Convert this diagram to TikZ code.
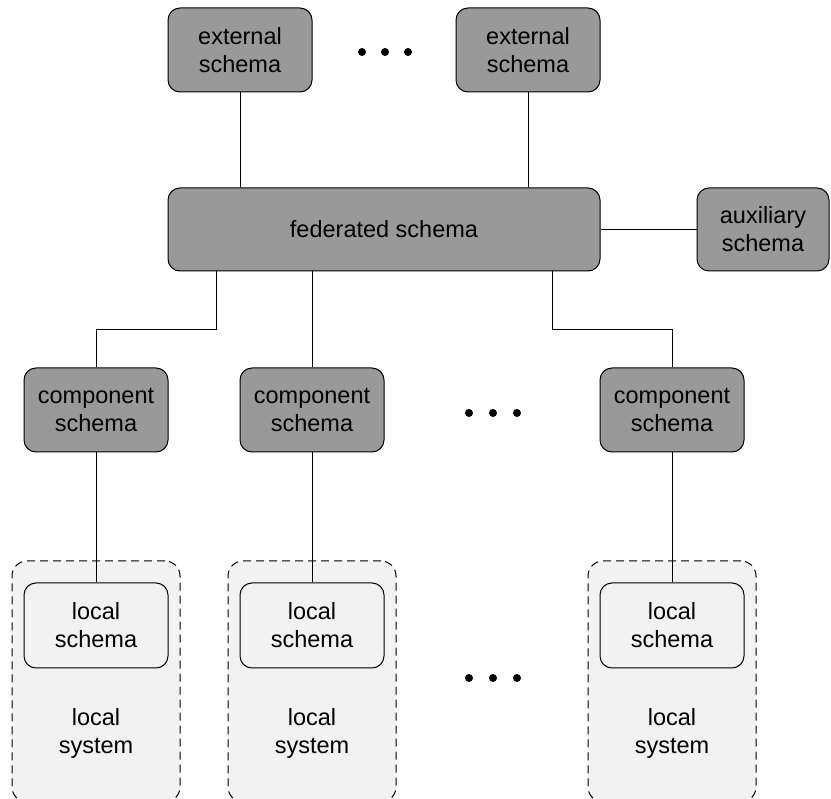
\documentclass[tikz,border=0pt]{standalone}
\usepackage{fontspec}
\setmainfont{Liberation Sans}
\definecolor{boxgray}{RGB}{153,153,153}
\definecolor{lightfill}{RGB}{242,242,242}
\begin{document}
\begin{tikzpicture}[x=1pt,y=-1pt,
  schem/.style={draw, fill=boxgray, rounded corners=12pt, minimum width=144pt, minimum height=84pt,
    align=center, inner sep=0pt, line width=1pt, font=\fontsize{23.5}{28}\selectfont},
  lschem/.style={schem, fill=lightfill},
  lsys/.style={draw, dash pattern=on 8pt off 5pt, fill=lightfill, rounded corners=15pt,
    minimum width=168pt, minimum height=241pt, inner sep=0pt, line width=1pt},
  lbl/.style={align=center, inner sep=0pt, font=\fontsize{23.5}{28}\selectfont},
  conn/.style={line width=1pt},
  dot/.style={fill=black}
]
\useasboundingbox (0,0) rectangle (831,799);
\clip (0,0) rectangle (831,799);

% external schemas
\node[schem] (ext1) at (240,50) {external\\schema};
\node[schem] (ext2) at (528,50) {external\\schema};
\fill[dot] (362,52) circle (4pt) (385,52) circle (4pt) (408,52) circle (4pt);

% federated and auxiliary
\node[schem, minimum width=432pt, minimum height=83pt] (fed) at (384,229.5) {federated schema};
\node[schem, minimum width=132pt, minimum height=83pt] (aux) at (763,229.5) {auxiliary\\schema};

% component schemas
\node[schem] (comp1) at (96,410) {component\\schema};
\node[schem] (comp2) at (312,410) {component\\schema};
\node[schem] (comp3) at (672,410) {component\\schema};
\fill[dot] (469,413) circle (4pt) (493,413) circle (4pt) (517,413) circle (4pt);

% local systems
\node[lsys] (sys1) at (96,681.5) {};
\node[lsys] (sys2) at (312,681.5) {};
\node[lsys] (sys3) at (672,681.5) {};
\node[lschem, minimum height=85pt] (loc1) at (96,625.5) {local\\schema};
\node[lschem, minimum height=85pt] (loc2) at (312,625.5) {local\\schema};
\node[lschem, minimum height=85pt] (loc3) at (672,625.5) {local\\schema};
\node[lbl] (sl1) at (96,733) {local\\system};
\node[lbl] (sl2) at (312,733) {local\\system};
\node[lbl] (sl3) at (672,733) {local\\system};
\fill[dot] (469,678) circle (4pt) (493,678) circle (4pt) (517,678) circle (4pt);

% connectors
\coordinate (j1) at (216,330);
\coordinate (j3) at (552,330);
\draw[conn] (ext1.south) -- (ext1.south |- fed.north);
\draw[conn] (ext2.south) -- (ext2.south |- fed.north);
\draw[conn] (fed.east) -- (aux.west);
\draw[conn] (fed.south -| j1) -- (j1) -| (comp1.north);
\draw[conn] (comp2.north |- fed.south) -- (comp2.north);
\draw[conn] (fed.south -| j3) -- (j3) -| (comp3.north);
\draw[conn] (comp1.south) -- (loc1.north);
\draw[conn] (comp2.south) -- (loc2.north);
\draw[conn] (comp3.south) -- (loc3.north);
\end{tikzpicture}
\end{document}
